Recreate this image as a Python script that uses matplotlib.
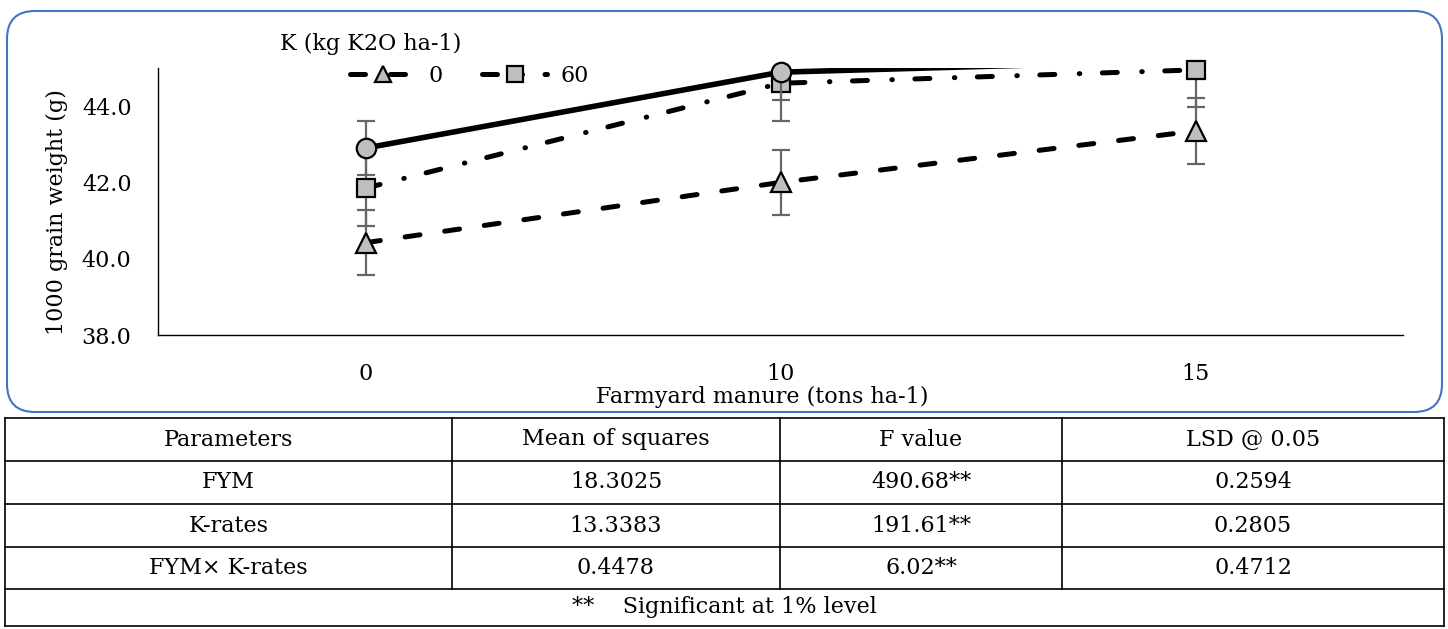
import numpy as np
import matplotlib
matplotlib.use('Agg')
from matplotlib import pyplot as plt
from matplotlib.patches import FancyBboxPatch
from matplotlib.lines import Line2D

plt.rcParams['font.family'] = ['DejaVu Serif']

# 数据
fym = ['0', '10', '15']
k0 = [40.42, 42.0, 43.35]
k0_err = [0.85, 0.85, 0.86]
k60 = [41.85, 44.6, 44.95]
k60_err = [1.0, 1.0, 0.97]
k120 = [42.9, 44.89, 45.2]
k120_err = [0.7, 0.73, 0.7]
yticks = [38.0, 40.0, 42.0, 44.0]

# 表格
header = ['Parameters', 'Mean of squares', 'F value', 'LSD @ 0.05']
rows = [['FYM', '18.3025', '490.68**', '0.2594'],
        ['K-rates', '13.3383', '191.61**', '0.2805'],
        ['FYM× K-rates', '0.4478', '6.02**', '0.4712']]
note = '**    Significant at 1% level'

W, H = 1448, 629
FS = 16
fig = plt.figure(figsize=(W / 100, H / 100), dpi=100)

# 背景层，像素坐标
bg = fig.add_axes([0, 0, 1, 1])
bg.set_xlim(0, W)
bg.set_ylim(H, 0)
bg.axis('off')
bg.add_patch(FancyBboxPatch((7, 11), 1435, 401, boxstyle='round,pad=0,rounding_size=28',
                            fill=False, ec='#4472C4', lw=1.5))

# 表格线
col_x = [5, 452, 780, 1062, 1444]
row_y = [418, 461, 504, 547, 589, 626]
for y in row_y:
    bg.plot([col_x[0], col_x[-1]], [y, y], color='black', lw=1.2)
for x in col_x:
    bg.plot([x, x], [row_y[0], row_y[4] if x not in (col_x[0], col_x[-1]) else row_y[-1]],
            color='black', lw=1.2)
for r, line in enumerate([header] + rows):
    yc = (row_y[r] + row_y[r + 1]) / 2
    for c, txt in enumerate(line):
        xc = (col_x[c] + col_x[c + 1]) / 2
        bg.text(xc, yc, txt, ha='center', va='center', fontsize=FS)
bg.text((col_x[0] + col_x[-1]) / 2, (row_y[4] + row_y[5]) / 2, note,
        ha='center', va='center', fontsize=FS)

# 主图
ax = fig.add_axes([158 / W, 1 - 335 / H, (1403 - 158) / W, (335 - 68) / H])
x = np.arange(len(fym))
mk = dict(mfc='#BFBFBF', mec='black', mew=1.6)
eb = dict(ecolor='#666666', elinewidth=1.6, capsize=6.5, capthick=1.6)

l0 = ax.errorbar(x, k0, yerr=k0_err, color='black', lw=3.6, marker='^', ms=15,
                 dash_capstyle='round', zorder=3, **mk, **eb)
l0[0].set_dashes([3, 5])

l60 = ax.errorbar(x, k60, yerr=k60_err, color='black', lw=3.6, marker='s', ms=13,
                  dash_capstyle='round', zorder=4, **mk, **eb)
l60[0].set_dashes([3, 4.9, 0.1, 4.5])
l60[0].set_clip_on(False)

# 120: 线在上方被裁掉，标记只画前两个点
ax.plot(x, k120, color='black', lw=4.0, zorder=3)
l120 = ax.errorbar(x[:2], k120[:2], yerr=k120_err[:2], ls='none', marker='o', ms=14,
                   zorder=5, **mk, **eb)
l120[0].set_clip_on(False)

ax.set_xlim(-0.5, 2.5)
ax.set_ylim(38, 45)
ax.set_xticks(x)
ax.set_xticklabels(fym)
ax.set_yticks(yticks)
ax.set_yticklabels(['%.1f' % v for v in yticks])
ax.tick_params(axis='both', length=0, labelsize=FS)
ax.tick_params(axis='x', pad=20)
ax.tick_params(axis='y', pad=19)
for s in ['top', 'right']:
    ax.spines[s].set_visible(False)
ax.spines['left'].set_linewidth(1.0)
ax.spines['bottom'].set_linewidth(1.0)

fig.text(762 / W, 1 - 397 / H, 'Farmyard manure (tons ha-1)', fontsize=FS,
         ha='center', va='center')
fig.text(57 / W, 1 - 212 / H, '1000 grain weight (g)', fontsize=FS, rotation=90,
         ha='center', va='center')

# 图例
fig.text(280 / W, 1 - 44 / H, 'K (kg K2O ha-1)', fontsize=FS, va='center', ha='left')
h0 = Line2D([], [], color='black', lw=3.6, marker='^', ms=12, dash_capstyle='round', **mk)
h0.set_dashes([3, 5])
h60 = Line2D([], [], color='black', lw=3.6, marker='s', ms=11, dash_capstyle='round', **mk)
h60.set_dashes([3, 4.9, 0.1, 4.5])
fig.legend([h0, h60], ['0', '60'], loc='center left', bbox_to_anchor=(350 / W, 1 - 76 / H),
           ncol=2, frameon=False, fontsize=FS, handlelength=2.93, handletextpad=0.58,
           columnspacing=1.8, borderpad=0, borderaxespad=0)

fig.savefig('out.png', dpi=100)
